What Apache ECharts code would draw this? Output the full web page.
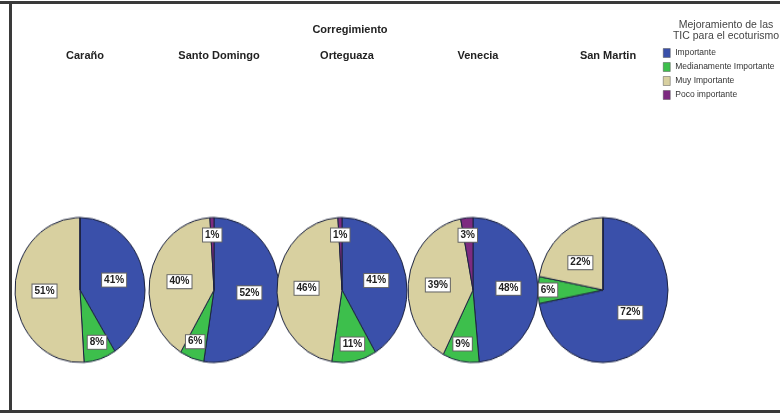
<!DOCTYPE html>
<html>
<head>
<meta charset="utf-8">
<script src="https://cdn.jsdelivr.net/npm/echarts@6/dist/echarts.min.js"></script>
<style>
  html, body { margin: 0; padding: 0; background: #fff; }
  #wrap { position: relative; width: 780px; height: 413px; overflow: hidden; background: #fff; }
  #pies { position: absolute; left: 0; top: 0; width: 780px; height: 413px; transform: scaleY(1.115); transform-origin: 0 290px; }
  #main { position: absolute; left: 0; top: 0; width: 780px; height: 413px; }
</style>
</head>
<body>
<div id="wrap">
  <div id="pies"></div>
  <div id="main"></div>
</div>
<script>
// ---- data ----
const categories = ['Importante', 'Medianamente Importante', 'Muy Importante', 'Poco importante'];
const places = ['Caraño', 'Santo Domingo', 'Orteguaza', 'Venecia', 'San Martin'];
const caranoValues = [41, 8, 51, 0];
const santoDomingoValues = [52, 6, 40, 1];
const orteguazaValues = [41, 11, 46, 1];
const veneciaValues = [48, 9, 39, 3];
const sanMartinValues = [72, 6, 22, 0];
const legendTitle = 'Mejoramiento de las\nTIC para el ecoturismo';
const groupTitle = 'Corregimiento';

// ---- styling / layout ----
const valueSets = [caranoValues, santoDomingoValues, orteguazaValues, veneciaValues, sanMartinValues];
const colors = ['#3a50aa', '#3dbf4c', '#d8d0a0', '#7d2a80'];
const centersX = [80, 214, 342, 473, 603];
const centerY = 290;
const R = 65;
const FONT = "'Liberation Sans', Arial, sans-serif";

// chart 1: slices (stretched vertically into ellipses)
const pieSeries = valueSets.map((vals, k) => ({
  type: 'pie',
  name: places[k],
  center: [centersX[k], centerY],
  radius: [0, R],
  startAngle: 90,
  clockwise: true,
  silent: true,
  animation: false,
  label: { show: false },
  labelLine: { show: false },
  itemStyle: { borderColor: '#1c2340', borderWidth: 1 },
  data: categories.map((c, i) => ({ name: c, value: vals[i], itemStyle: { color: colors[i] } }))
}));
const chartPies = echarts.init(document.getElementById('pies'), null, { renderer: 'canvas' });
chartPies.setOption({ animation: false, series: pieSeries });

// chart 2: text, legend, labels
const labelStyle = {
  position: 'inside',
  formatter: '{c}%',
  color: '#222',
  fontSize: 10,
  fontWeight: 'bold',
  fontFamily: FONT,
  backgroundColor: '#fff',
  borderColor: '#666',
  borderWidth: 1,
  padding: [2, 2, 1, 2]
};
const labelSeries = [];
valueSets.forEach((vals, k) => {
  // big slices: labels at mid radius
  labelSeries.push({
    type: 'pie', center: [centersX[k], centerY], radius: [0, R],
    startAngle: 90, clockwise: true, silent: true, animation: false,
    label: labelStyle, labelLine: { show: false },
    itemStyle: { color: 'rgba(0,0,0,0)', borderWidth: 0 },
    data: categories.map((c, i) => ({ name: c, value: vals[i], label: { show: vals[i] >= 15 } }))
  });
  // small slices: labels pushed outwards
  labelSeries.push({
    type: 'pie', center: [centersX[k], centerY], radius: [38, 66],
    startAngle: 90, clockwise: true, silent: true, animation: false,
    label: labelStyle, labelLine: { show: false },
    itemStyle: { color: 'rgba(0,0,0,0)', borderWidth: 0 },
    data: categories.map((c, i) => ({ name: c, value: vals[i], label: { show: vals[i] > 0 && vals[i] < 15 } }))
  });
});

const titles = [{
  text: groupTitle, left: 345, top: 19, textAlign: 'center',
  textStyle: { fontSize: 11, fontWeight: 'bold', color: '#222', fontFamily: FONT }
}];
places.forEach((p, k) => titles.push({
  text: p, left: centersX[k], top: 45, textAlign: 'center',
  textStyle: { fontSize: 11, fontWeight: 'bold', color: '#222', fontFamily: FONT }
}));
titles.push({
  text: legendTitle, left: 721, top: 15, textAlign: 'center',
  textStyle: { fontSize: 10.5, fontWeight: 'normal', color: '#444', fontFamily: FONT, lineHeight: 11 }
});

const chart = echarts.init(document.getElementById('main'), null, { renderer: 'canvas' });
chart.setOption({
  animation: false,
  title: titles,
  legend: {
    orient: 'vertical', left: 663, top: 48, padding: 0,
    itemWidth: 7, itemHeight: 9, itemGap: 4,
    selectedMode: false,
    icon: 'rect',
    textStyle: { fontSize: 8.5, color: '#333', fontFamily: FONT, lineHeight: 10 },
    data: categories.map((c, i) => ({ name: c, itemStyle: { color: colors[i], opacity: 1, borderColor: '#555', borderWidth: 0.5 } }))
  },
  graphic: [
    { type: 'rect', shape: { x: 0, y: 1, width: 780, height: 3 }, style: { fill: '#3a3a3a' }, silent: true },
    { type: 'rect', shape: { x: 9, y: 1, width: 3, height: 412 }, style: { fill: '#3a3a3a' }, silent: true },
    { type: 'rect', shape: { x: 0, y: 410, width: 780, height: 3 }, style: { fill: '#3a3a3a' }, silent: true }
  ],
  series: labelSeries
});
</script>
</body>
</html>
